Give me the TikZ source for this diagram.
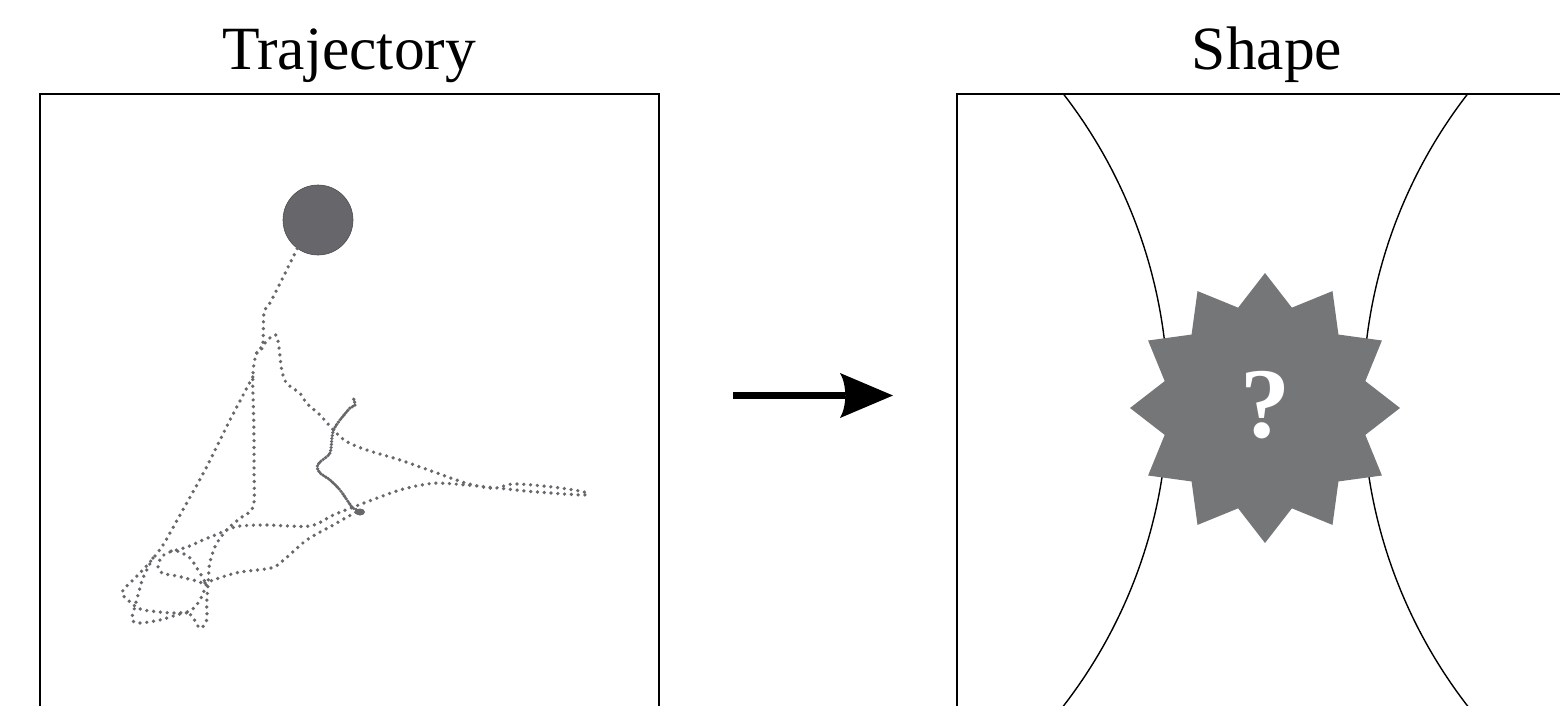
\documentclass[tikz,border=0pt]{standalone}
\usepackage{fontspec}
\setmainfont{Liberation Serif}
\usetikzlibrary{shapes.geometric}
\definecolor{ballc}{RGB}{103,103,107}
\definecolor{dotc}{RGB}{104,104,108}
\definecolor{starc}{RGB}{117,118,120}
\begin{document}
\begin{tikzpicture}[x=1pt,y=-1pt,
  frame/.style={line width=1.7pt, black},
  dots/.style={dotc, line width=3.7pt, line cap=round, dash pattern=on 0pt off 6.8pt},
  dense/.style={dotc, line width=3.6pt, line cap=round, dash pattern=on 0pt off 3pt},
  title/.style={font=\fontsize{61.5}{64}\selectfont, anchor=base},
  curve/.style={line width=1.4pt, black}]
\useasboundingbox (0,0) rectangle (1560,706);

% titles
\node[title] (t1) at (349,70) {Trajectory};
\node[title] (t2) at (1267,70) {Shape};

% frames
\draw[frame] (40,712) -- (40,94) -- (659,94) -- (659,712);
\draw[frame] (957,712) -- (957,94) -- (1566,94);

% arrow
\coordinate (a0) at (733,395.5);
\coordinate (a1) at (893,395.5);
\draw[line width=6.5pt] (a0) -- (845,395.5);
\fill (a1) -- (840,373) .. controls (847,385) and (847,406) .. (840,418) -- cycle;

% curved sides (circular arcs)
\draw[curve] plot[domain=-306:312, samples=90, smooth] ({668 + 100*sqrt(25 - (\x/100)^2)}, {400+\x});
\draw[curve] plot[domain=-306:312, samples=90, smooth] ({1863 - 100*sqrt(25 - (\x/100)^2)}, {400+\x});

% starburst
\node[star, star points=12, star point ratio=1.3, minimum size=270pt, inner sep=0pt, fill=starc, draw=none] (star) at (1265,408) {};
\node[font=\bfseries\fontsize{100}{104}\selectfont, text=white, anchor=base] (q) at (1265,437) {?};

% ball
\node[circle, fill=ballc, draw=ballc!75!black, line width=0.6pt, minimum size=70pt, inner sep=0pt] (ball) at (318,220) {};

% trajectory
\draw[dots] plot[smooth, tension=0.5] coordinates {(ball.234) (281.7,280) (270,303) (264,313) (262.7,346.7) (256.7,352.7) (275.7,335) (281.7,370) (286.7,383.3) (300,393.3) (306.7,403.3) (320,415) (333.3,430) (346.7,441.7) (366.7,450) (400,460) (433.3,471.7) (466.7,483.3) (493.3,488.3) (513.3,484) (550,486.7) (583.3,491.7) (583.3,495) (533.3,491.7) (500,488.3) (466.7,485) (433.3,483.3) (400,490) (363.3,503.3) (333.3,515) (310,526) (266.7,525) (240,526) (228.3,529.3) (220,533) (203,540) (187,547) (165,554) (158,565) (162,573) (177,576) (193,580) (205,583) (198,570) (190,558) (177,551) (165,552)};

\draw[dots] plot[smooth, tension=0.5] coordinates {(205,583) (236.7,572.7) (270,568.3) (281.7,561.7) (306.7,540) (333.3,525) (356,512)};

\draw[dense] plot[smooth, tension=0.5] coordinates {(361.7,511.7) (353,508) (347,500) (340,490) (330,480) (320,473) (317,467) (320,462) (330,453) (332,437) (334,429) (340,420) (350,408) (355,405) (353,397)};
\fill[dotc] (360,512) ellipse (5pt and 3.5pt);

\draw[dots] plot[smooth, tension=0.5] coordinates {(256.7,352.7) (254,363.3) (252.7,380) (253.3,403.3) (254,436.7) (254,470) (253.3,506.7) (240,518.3) (228.3,528.3) (216.7,543.3) (210,561.7) (208.3,580) (206.7,603.3) (206.7,620) (200,628.3) (192,616) (185,612)};

\draw[dots] plot[smooth, tension=0.5] coordinates {(252.7,377) (230,420) (205,470) (180,515) (163,545) (150,562) (135,578) (122,592) (128,600) (140,609) (160,612) (175,613) (190,611) (200,600) (207,583)};

\draw[dots] plot[smooth, tension=0.5] coordinates {(153,558) (143,578) (138,595) (134,610) (132,620) (140,623) (160,620) (180,614) (192,612)};
\end{tikzpicture}
\end{document}
